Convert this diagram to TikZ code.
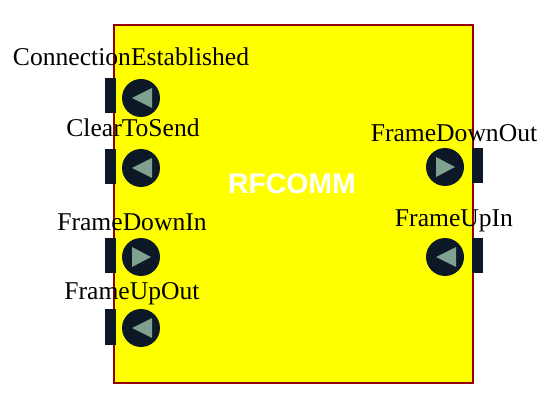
\documentclass[tikz,border=0pt]{standalone}
\usepackage{fontspec}
\setmainfont{Liberation Serif}
\newfontfamily\blockfont{Liberation Sans}
\usetikzlibrary{positioning}

\definecolor{blockfill}{RGB}{255,255,0}
\definecolor{blockedge}{RGB}{150,0,0}
\definecolor{portdark}{RGB}{12,24,38}
\definecolor{portarrow}{RGB}{128,160,144}

\begin{document}
\begin{tikzpicture}[
  x=1pt, y=-1pt,
  block/.style={draw=blockedge, line width=2pt, fill=blockfill},
  tab/.style={fill=portdark, inner sep=0pt, minimum width=11pt, minimum height=35pt},
  pin/.style={circle, fill=portdark, inner sep=0pt, minimum size=38pt},
  arrowfill/.style={fill=portarrow},
  portname/.style={anchor=base, font=\fontsize{25.6}{26}\selectfont, inner sep=0pt}
]
\useasboundingbox (0,0) rectangle (560,406);

\node[block, minimum width=359pt, minimum height=358pt, anchor=north west, inner sep=0pt] (rfcomm) at (113,24) {};
\node[text=white, font=\blockfont\bfseries\fontsize{28.4}{28}\selectfont] (title) at (292,184) {RFCOMM};

% left side
\node[tab] (tabCE) at (110.5,96) {};
\node[pin] (pinCE) at (141,98) {};
\node[portname] (nameCE) at (131,66) {ConnectionEstablished};
\fill[arrowfill] ([xshift=-9pt]pinCE.center) -- ++(20,-10) -- ++(0,20) -- cycle;

\node[tab] (tabCTS) at (110.5,167) {};
\node[pin] (pinCTS) at (141,168) {};
\node[portname] (nameCTS) at (133,137) {ClearToSend};
\fill[arrowfill] ([xshift=-9pt]pinCTS.center) -- ++(20,-10) -- ++(0,20) -- cycle;

\node[tab] (tabFDI) at (110.5,256) {};
\node[pin] (pinFDI) at (141,257) {};
\node[portname] (nameFDI) at (132,231) {FrameDownIn};
\fill[arrowfill] ([xshift=10pt]pinFDI.center) -- ++(-19,-10) -- ++(0,20) -- cycle;

\node[tab] (tabFUO) at (110.5,327) {};
\node[pin] (pinFUO) at (141,328) {};
\node[portname] (nameFUO) at (132,300) {FrameUpOut};
\fill[arrowfill] ([xshift=-9pt]pinFUO.center) -- ++(20,-10) -- ++(0,20) -- cycle;

% right side
\node[tab] (tabFDO) at (477,166) {};
\node[pin] (pinFDO) at (445,167) {};
\node[portname] (nameFDO) at (454,142) {FrameDownOut};
\fill[arrowfill] ([xshift=10pt]pinFDO.center) -- ++(-19,-10) -- ++(0,20) -- cycle;

\node[tab] (tabFUI) at (477,256) {};
\node[pin] (pinFUI) at (445,257) {};
\node[portname] (nameFUI) at (454,227) {FrameUpIn};
\fill[arrowfill] ([xshift=-9pt]pinFUI.center) -- ++(20,-10) -- ++(0,20) -- cycle;
\end{tikzpicture}
\end{document}
